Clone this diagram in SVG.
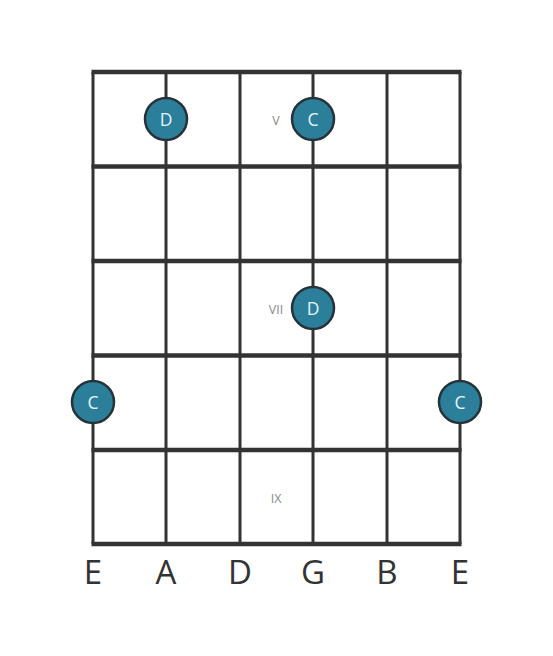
<svg xmlns="http://www.w3.org/2000/svg" width="553" height="656" viewBox="0 0 553 656">
<style>
.fret{stroke:#333;stroke-width:4.5}
.str{stroke:#333;stroke-width:3}
.dot circle{fill:#2b7f9b;stroke:#263238;stroke-width:2.5}
.dot text{fill:#e6f4f8;font-family:"Open Sans",sans-serif;font-size:17.5px;text-anchor:middle;dominant-baseline:central}
.fl{fill:#888;font-family:"Open Sans",sans-serif;font-size:12.5px;text-anchor:middle;dominant-baseline:central}
.sl{fill:#333;font-family:"Open Sans",sans-serif;font-size:33px;text-anchor:middle}
</style>
<rect width="553" height="656" fill="#fff"/>
<g id="grid">
<line class="str" x1="93" y1="72" x2="93" y2="544"/>
<line class="str" x1="166" y1="72" x2="166" y2="544"/>
<line class="str" x1="240" y1="72" x2="240" y2="544"/>
<line class="str" x1="313" y1="72" x2="313" y2="544"/>
<line class="str" x1="387" y1="72" x2="387" y2="544"/>
<line class="str" x1="460" y1="72" x2="460" y2="544"/>
<line class="fret" x1="91.5" y1="72" x2="461.5" y2="72"/>
<line class="fret" x1="91.5" y1="166.5" x2="461.5" y2="166.5"/>
<line class="fret" x1="91.5" y1="261" x2="461.5" y2="261"/>
<line class="fret" x1="91.5" y1="355.5" x2="461.5" y2="355.5"/>
<line class="fret" x1="91.5" y1="450" x2="461.5" y2="450"/>
<line class="fret" x1="91.5" y1="544" x2="461.5" y2="544"/>
</g>
<g id="fret-labels">
<text class="fl" x="276" y="120">V</text>
<text class="fl" x="276" y="309">VII</text>
<text class="fl" x="276" y="498">IX</text>
</g>
<g id="n1" class="dot"><circle cx="166" cy="119" r="21"/><text x="166" y="119">D</text></g>
<g id="n2" class="dot"><circle cx="313" cy="119" r="21"/><text x="313" y="119">C</text></g>
<g id="n3" class="dot"><circle cx="313" cy="308" r="21"/><text x="313" y="308">D</text></g>
<g id="n4" class="dot"><circle cx="93" cy="402" r="21"/><text x="93" y="402">C</text></g>
<g id="n5" class="dot"><circle cx="460" cy="402" r="21"/><text x="460" y="402">C</text></g>
<g id="string-labels">
<text class="sl" x="93" y="584">E</text>
<text class="sl" x="166" y="584">A</text>
<text class="sl" x="240" y="584">D</text>
<text class="sl" x="313" y="584">G</text>
<text class="sl" x="387" y="584">B</text>
<text class="sl" x="460" y="584">E</text>
</g>
</svg>
